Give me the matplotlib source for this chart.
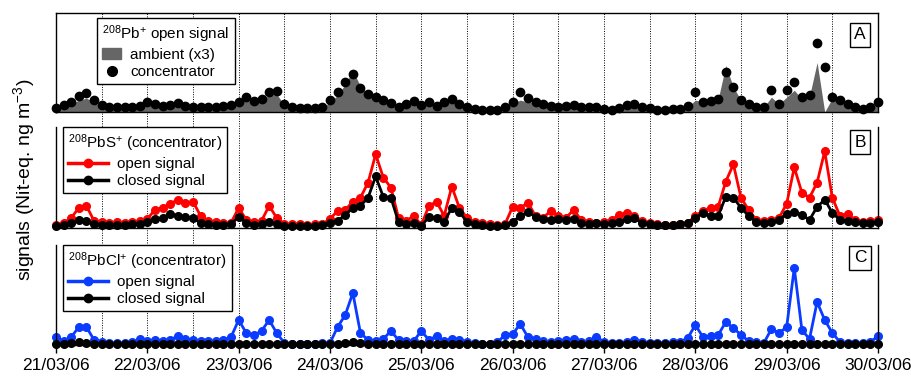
import numpy as np
import pandas as pd
import matplotlib
matplotlib.use('Agg')
import matplotlib.pyplot as plt
import matplotlib.dates as mdates
from matplotlib.patches import Patch
from matplotlib.lines import Line2D

plt.rcParams['font.family'] = ['Liberation Sans', 'DejaVu Sans']
plt.rcParams['mathtext.default'] = 'regular'

# sampling times (every 2 h, 21/03/06 00:00 -> 30/03/06 00:00)
times = pd.date_range('2006-03-21 00:00', '2006-03-30 00:00', freq='2h')

# panel A: 208Pb+ open signal (arbitrary units)
pb_conc = [0.04, 0.07, 0.10, 0.16, 0.19, 0.12, 0.07, 0.05, 0.05, 0.05,
           0.05, 0.06, 0.10, 0.08, 0.06, 0.07, 0.09, 0.06, 0.05, 0.05,
           0.05, 0.05, 0.06, 0.07, 0.10, 0.15, 0.11, 0.13, 0.20, 0.21,
           0.08, 0.05, 0.04, 0.04, 0.04, 0.05, 0.12, 0.20, 0.30, 0.38,
           0.24, 0.18, 0.15, 0.12, 0.09, 0.05, 0.08, 0.11, 0.07, 0.10,
           0.06, 0.10, 0.13, 0.08, 0.05, 0.03, 0.02, 0.02, 0.02, 0.05,
           0.10, 0.20, 0.14, 0.10, 0.08, 0.06, 0.05, 0.06, 0.07, 0.05,
           0.05, 0.05, 0.03, 0.02, 0.04, 0.07, 0.08, 0.05, 0.04, 0.02,
           0.02, 0.03, 0.03, 0.06, 0.20, 0.10, 0.11, 0.13, 0.40, 0.25,
           0.12, 0.08, 0.05, 0.05, 0.22, 0.08, 0.22, 0.30, 0.15, 0.17,
           0.70, 0.45, 0.15, 0.12, 0.08, 0.05, 0.03, 0.05, 0.10]
pb_amb = [0.03, 0.05, 0.08, 0.12, 0.14, 0.10, 0.05, 0.04, 0.04, 0.04,
          0.04, 0.05, 0.08, 0.07, 0.05, 0.06, 0.08, 0.05, 0.04, 0.04,
          0.04, 0.04, 0.05, 0.06, 0.09, 0.12, 0.10, 0.12, 0.17, 0.18,
          0.07, 0.04, 0.03, 0.03, 0.03, 0.04, 0.10, 0.17, 0.28, 0.42,
          0.26, 0.18, 0.14, 0.11, 0.09, 0.07, 0.08, 0.09, 0.08, 0.09,
          0.07, 0.09, 0.10, 0.07, 0.04, 0.03, 0.02, 0.02, 0.02, 0.05,
          0.09, 0.12, 0.10, 0.09, 0.10, 0.07, 0.05, 0.05, 0.06, 0.05,
          0.04, 0.04, 0.03, 0.02, 0.04, 0.06, 0.07, 0.05, 0.04, 0.02,
          0.02, 0.03, 0.03, 0.05, 0.12, 0.10, 0.11, 0.13, 0.47, 0.25,
          0.12, 0.08, 0.05, 0.05, 0.15, 0.08, 0.15, 0.22, 0.13, 0.16,
          0.50, 0.00, 0.14, 0.11, 0.07, 0.05, 0.03, 0.04, 0.08]

# panel B: 208PbS+ (concentrator)
pbs_open = [0.03, 0.05, 0.10, 0.20, 0.22, 0.07, 0.06, 0.05, 0.06, 0.05,
            0.06, 0.07, 0.09, 0.18, 0.20, 0.24, 0.28, 0.25, 0.26, 0.12,
            0.07, 0.06, 0.05, 0.05, 0.20, 0.08, 0.06, 0.07, 0.22, 0.10,
            0.04, 0.04, 0.04, 0.03, 0.04, 0.04, 0.09, 0.17, 0.18, 0.26,
            0.30, 0.45, 0.73, 0.50, 0.40, 0.10, 0.07, 0.12, 0.03, 0.22,
            0.26, 0.12, 0.41, 0.20, 0.10, 0.06, 0.05, 0.04, 0.03, 0.04,
            0.21, 0.20, 0.25, 0.12, 0.10, 0.17, 0.12, 0.10, 0.18, 0.08,
            0.06, 0.05, 0.06, 0.08, 0.13, 0.15, 0.12, 0.07, 0.05, 0.04,
            0.03, 0.03, 0.04, 0.05, 0.12, 0.17, 0.20, 0.21, 0.46, 0.63,
            0.30, 0.18, 0.08, 0.07, 0.08, 0.10, 0.24, 0.60, 0.35, 0.30,
            0.45, 0.76, 0.30, 0.12, 0.14, 0.08, 0.06, 0.07, 0.08]
pbs_closed = [0.02, 0.03, 0.05, 0.08, 0.07, 0.04, 0.03, 0.03, 0.03, 0.03,
              0.04, 0.04, 0.06, 0.09, 0.10, 0.14, 0.12, 0.11, 0.10, 0.05,
              0.04, 0.03, 0.03, 0.04, 0.11, 0.05, 0.03, 0.04, 0.06, 0.04,
              0.02, 0.02, 0.02, 0.02, 0.02, 0.03, 0.05, 0.07, 0.13, 0.20,
              0.22, 0.30, 0.51, 0.31, 0.30, 0.06, 0.04, 0.05, 0.02, 0.11,
              0.10, 0.06, 0.20, 0.16, 0.06, 0.04, 0.03, 0.02, 0.02, 0.03,
              0.06, 0.12, 0.16, 0.11, 0.09, 0.08, 0.09, 0.08, 0.09, 0.05,
              0.04, 0.05, 0.04, 0.05, 0.06, 0.09, 0.10, 0.05, 0.04, 0.03,
              0.03, 0.03, 0.04, 0.05, 0.10, 0.15, 0.12, 0.12, 0.31, 0.30,
              0.20, 0.12, 0.06, 0.05, 0.06, 0.08, 0.14, 0.16, 0.13, 0.08,
              0.21, 0.28, 0.15, 0.08, 0.07, 0.06, 0.05, 0.05, 0.06]

# panel C: 208PbCl+ (concentrator)
pbcl_open = [0.08, 0.04, 0.08, 0.18, 0.18, 0.05, 0.03, 0.02, 0.02, 0.02,
             0.03, 0.06, 0.04, 0.05, 0.04, 0.05, 0.09, 0.06, 0.05, 0.04,
             0.04, 0.04, 0.05, 0.08, 0.25, 0.12, 0.10, 0.14, 0.25, 0.12,
             0.02, 0.01, 0.01, 0.01, 0.01, 0.02, 0.02, 0.18, 0.30, 0.52,
             0.12, 0.05, 0.04, 0.06, 0.14, 0.05, 0.04, 0.04, 0.14, 0.05,
             0.09, 0.04, 0.06, 0.05, 0.03, 0.02, 0.01, 0.01, 0.03, 0.10,
             0.11, 0.21, 0.08, 0.06, 0.04, 0.03, 0.04, 0.05, 0.06, 0.03,
             0.04, 0.08, 0.03, 0.02, 0.02, 0.03, 0.05, 0.03, 0.02, 0.02,
             0.02, 0.03, 0.03, 0.07, 0.20, 0.08, 0.09, 0.10, 0.23, 0.17,
             0.10, 0.04, 0.03, 0.02, 0.16, 0.12, 0.18, 0.77, 0.15, 0.06,
             0.43, 0.25, 0.12, 0.03, 0.02, 0.02, 0.02, 0.03, 0.09]
pbcl_closed = [0.01, 0.01, 0.02, 0.03, 0.02, 0.01, 0.01, 0.01, 0.01, 0.01,
               0.01, 0.01, 0.01, 0.01, 0.01, 0.01, 0.01, 0.01, 0.01, 0.01,
               0.01, 0.01, 0.01, 0.01, 0.01, 0.01, 0.01, 0.01, 0.01, 0.01,
               0.01, 0.01, 0.01, 0.01, 0.01, 0.01, 0.01, 0.01, 0.02, 0.03,
               0.02, 0.01, 0.01, 0.01, 0.01, 0.01, 0.01, 0.01, 0.01, 0.01,
               0.01, 0.01, 0.01, 0.01, 0.01, 0.01, 0.01, 0.01, 0.01, 0.01,
               0.01, 0.01, 0.01, 0.01, 0.01, 0.01, 0.01, 0.01, 0.01, 0.01,
               0.01, 0.01, 0.01, 0.01, 0.01, 0.01, 0.01, 0.01, 0.01, 0.01,
               0.01, 0.01, 0.01, 0.01, 0.01, 0.01, 0.01, 0.01, 0.01, 0.01,
               0.01, 0.01, 0.01, 0.01, 0.01, 0.01, 0.01, 0.01, 0.01, 0.01,
               0.01, 0.01, 0.01, 0.01, 0.01, 0.01, 0.01, 0.01, 0.01]

t0 = pd.Timestamp('2006-03-21')
t1 = pd.Timestamp('2006-03-30')
fs = 11

fig = plt.figure(figsize=(9.12, 3.83), dpi=100)
L, W = 56 / 912, 822 / 912

def pos(top, bot):
    return [L, 1 - bot / 383, W, (bot - top) / 383]

# background for the dotted half-day lines
bg = fig.add_axes(pos(13, 345), zorder=0)
bg.set_xlim(t0, t1)
bg.set_ylim(0, 1)
bg.axis('off')
for h in range(12, 216, 12):
    bg.axvline(t0 + pd.Timedelta(hours=h), color='k', ls=(0, (1, 1.5)), lw=0.7)

axA = fig.add_axes(pos(13, 112), zorder=1)
axB = fig.add_axes(pos(127, 228), zorder=1)
axC = fig.add_axes(pos(245, 345), zorder=1)

for ax in (axA, axB, axC):
    ax.set_facecolor('none')
    ax.set_xlim(t0, t1)
    ax.set_ylim(0, 1)
    ax.set_yticks([])
    for s in ax.spines.values():
        s.set_linewidth(1.0)

for ax in (axB, axC):
    ax.spines['top'].set_visible(False)

axA.tick_params(axis='x', bottom=False, labelbottom=False)
axB.tick_params(axis='x', bottom=False, labelbottom=False)
axC.xaxis.set_major_locator(mdates.DayLocator())
axC.xaxis.set_major_formatter(mdates.DateFormatter('%d/%m/%y'))
axC.tick_params(axis='x', direction='out', length=6, width=1, labelsize=12.5, pad=3)

leg_kw = dict(loc='upper left', fontsize=fs, title_fontsize=fs, fancybox=False,
              edgecolor='k', framealpha=1, handletextpad=0.6, labelspacing=0.2,
              borderpad=0.35, borderaxespad=0)

# panel A
axA.fill_between(times, 0, pb_amb, color='#666666', lw=0)
axA.plot(times, pb_conc, 'o', color='k', ms=6, clip_on=False)
hA = [Patch(color='#666666'), Line2D([], [], ls='none', marker='o', color='k', ms=7)]
legA = axA.legend(hA, ['ambient (x3)', 'concentrator'], title=r'$^{208}$Pb$^{+}$ open signal',
                  bbox_to_anchor=(0.05, 0.95), handlelength=1.2, **leg_kw)

# panel B
axB.plot(times, pbs_open, '-o', color='red', lw=2, ms=5.5, clip_on=False)
axB.plot(times, pbs_closed, '-o', color='k', lw=2, ms=5.5, clip_on=False)
hB = [Line2D([], [], color='red', lw=2.5, marker='o', ms=6),
      Line2D([], [], color='k', lw=2.5, marker='o', ms=6)]
legB = axB.legend(hB, ['open signal', 'closed signal'], title=r'$^{208}$PbS$^{+}$ (concentrator)',
                  bbox_to_anchor=(0.008, 1.0), handlelength=2.6, **leg_kw)

# panel C
axC.plot(times, pbcl_open, '-o', color='#0a3cff', lw=2, ms=5.5, clip_on=False)
axC.plot(times, pbcl_closed, '-o', color='k', lw=2, ms=5.5, clip_on=False)
hC = [Line2D([], [], color='#0a3cff', lw=2.5, marker='o', ms=6),
      Line2D([], [], color='k', lw=2.5, marker='o', ms=6)]
legC = axC.legend(hC, ['open signal', 'closed signal'], title=r'$^{208}$PbCl$^{+}$ (concentrator)',
                  bbox_to_anchor=(0.008, 1.0), handlelength=2.6, **leg_kw)

for leg in (legA, legB, legC):
    leg.get_frame().set_linewidth(1.0)
    leg._legend_box.align = 'left'

# panel letters
for ax, lab, y in ((axA, 'A', 0.78), (axB, 'B', 0.85), (axC, 'C', 0.87)):
    ax.text(0.978, y, lab, transform=ax.transAxes, ha='center', va='center', fontsize=12.5,
            bbox=dict(boxstyle='square,pad=0.25', fc='white', ec='k', lw=1.0))

fig.text(24 / 912, 0.53, r'signals (Nit-eq. ng m$^{-3}$)', rotation=90,
         ha='center', va='center', fontsize=14)

fig.savefig('out.png', dpi=100)
